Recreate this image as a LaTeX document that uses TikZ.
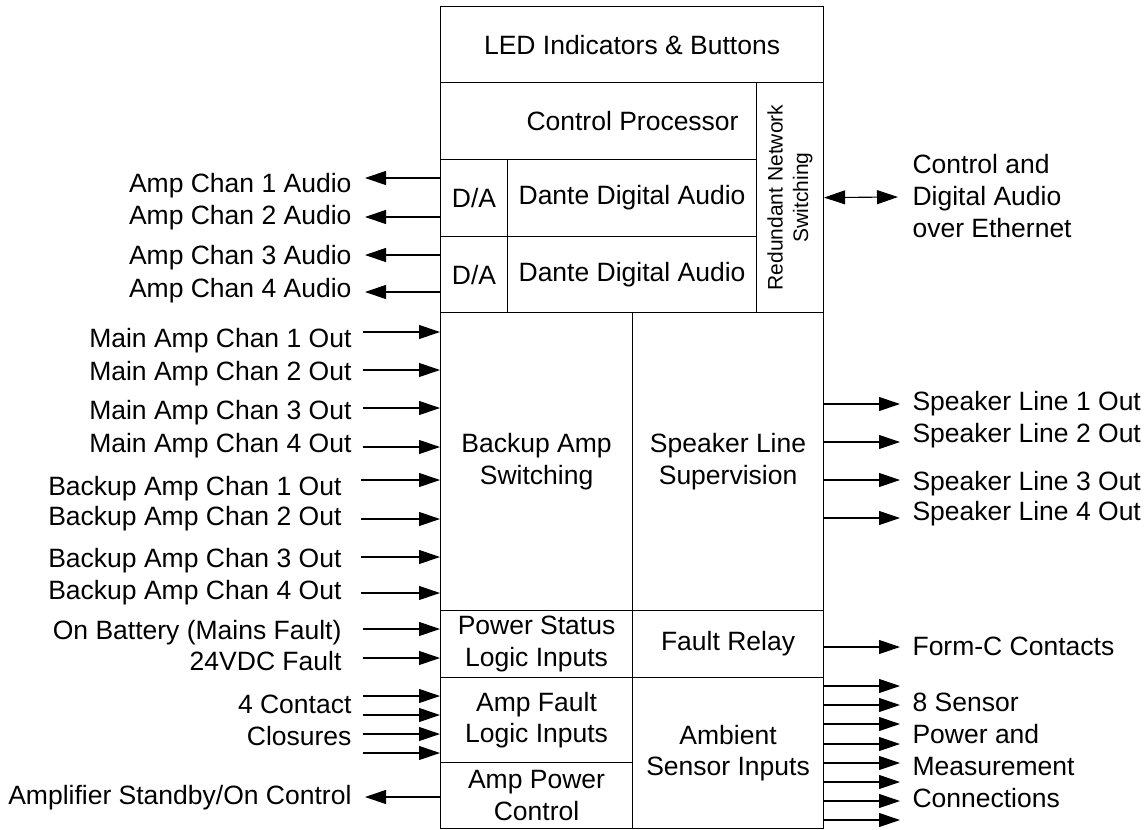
\documentclass[tikz,border=0pt]{standalone}
\usepackage{fontspec}
\setmainfont{Liberation Sans}
\usetikzlibrary{arrows.meta, positioning}

\begin{document}
\begin{tikzpicture}[x=1pt, y=-1pt, line width=1.1pt,
    font=\fontsize{26.5}{31.8}\selectfont,
    blk/.style={draw, inner sep=0pt, anchor=north west, align=center},
    lbl/.style={inner sep=0pt, anchor=base east, align=right},
    rlbl/.style={inner sep=0pt, anchor=base west, align=left},
    arr/.style={-{Triangle[length=21pt, width=14pt]}}]
    \useasboundingbox (0,0) rectangle (1146,830);
    % unit blocks
    \node[blk, minimum width=383pt, minimum height=76pt] (led) at (440,6) {LED Indicators \& Buttons};
    \node[blk, minimum width=316pt, minimum height=77pt, label={[xshift=34pt]center:Control Processor}] (cpu) at (440,82) {};
    \node[blk, minimum width=67pt, minimum height=230pt,
      label={[rotate=90, align=center, font=\fontsize{21}{25.5}\selectfont]center:Redundant Network\\Switching}] (rns) at (756,82) {};
    \node[blk, minimum width=67pt, minimum height=77pt] (da1) at (440,159) {D/A};
    \node[blk, minimum width=249pt, minimum height=77pt] (dante1) at (507,159) {Dante Digital Audio};
    \node[blk, minimum width=67pt, minimum height=76pt] (da2) at (440,236) {D/A};
    \node[blk, minimum width=249pt, minimum height=76pt] (dante2) at (507,236) {Dante Digital Audio};
    \node[blk, minimum width=192pt, minimum height=298pt] (bkp) at (440,312) {Backup Amp\\Switching};
    \node[blk, minimum width=191pt, minimum height=298pt] (spk) at (632,312) {Speaker Line\\Supervision};
    \node[blk, minimum width=192pt, minimum height=67pt] (pwr) at (440,610) {Power Status\\Logic Inputs};
    \node[blk, minimum width=191pt, minimum height=67pt] (flt) at (632,610) {Fault Relay};
    \node[blk, minimum width=192pt, minimum height=85pt] (afl) at (440,677) {Amp Fault\\Logic Inputs};
    \node[blk, minimum width=192pt, minimum height=66pt] (apc) at (440,762) {Amp Power\\Control};
    \node[blk, minimum width=191pt, minimum height=151pt] (amb) at (632,677) {Ambient\\Sensor Inputs};

    % analog audio out
    \coordinate (aud1) at (365,178); \coordinate (aud2) at (365,217);
    \coordinate (aud3) at (365,255); \coordinate (aud4) at (365,292);
    \draw[arr] (aud1 -| da1.west) -- (aud1); \draw[arr] (aud2 -| da1.west) -- (aud2);
    \draw[arr] (aud3 -| da2.west) -- (aud3); \draw[arr] (aud4 -| da2.west) -- (aud4);
    \node[lbl] (laud1) at (352,192) {Amp Chan 1 Audio};
    \node[lbl] (laud2) at (352,224) {Amp Chan 2 Audio};
    \node[lbl] (laud3) at (352,264) {Amp Chan 3 Audio};
    \node[lbl] (laud4) at (352,297) {Amp Chan 4 Audio};

    % amplifier outputs in
    \coordinate (main1) at (363,332); \coordinate (main2) at (363,370);
    \coordinate (main3) at (363,408); \coordinate (main4) at (363,447);
    \coordinate (bak1) at (361,480); \coordinate (bak2) at (361,519);
    \coordinate (bak3) at (361,557); \coordinate (bak4) at (361,593);
    \draw[arr] (main1) -- (main1 -| bkp.west); \draw[arr] (main2) -- (main2 -| bkp.west);
    \draw[arr] (main3) -- (main3 -| bkp.west); \draw[arr] (main4) -- (main4 -| bkp.west);
    \draw[arr] (bak1) -- (bak1 -| bkp.west); \draw[arr] (bak2) -- (bak2 -| bkp.west);
    \draw[arr] (bak3) -- (bak3 -| bkp.west); \draw[arr] (bak4) -- (bak4 -| bkp.west);
    \node[lbl] (lmain1) at (352,347) {Main Amp Chan 1 Out};
    \node[lbl] (lmain2) at (352,380) {Main Amp Chan 2 Out};
    \node[lbl] (lmain3) at (352,419) {Main Amp Chan 3 Out};
    \node[lbl] (lmain4) at (352,452) {Main Amp Chan 4 Out};
    \node[lbl] (lbak1) at (342,495) {Backup Amp Chan 1 Out};
    \node[lbl] (lbak2) at (342,525) {Backup Amp Chan 2 Out};
    \node[lbl] (lbak3) at (342,567) {Backup Amp Chan 3 Out};
    \node[lbl] (lbak4) at (342,599) {Backup Amp Chan 4 Out};

    % power status, contacts, standby
    \coordinate (bat) at (363,629); \coordinate (vdc) at (363,658);
    \draw[arr] (bat) -- (bat -| pwr.west); \draw[arr] (vdc) -- (vdc -| pwr.west);
    \node[lbl] (lbat) at (342,639) {On Battery (Mains Fault)};
    \node[lbl] (lvdc) at (342,670) {24VDC Fault};
    \coordinate (cc1) at (363,696); \coordinate (cc2) at (363,715);
    \coordinate (cc3) at (363,734); \coordinate (cc4) at (363,753);
    \draw[arr] (cc1) -- (cc1 -| afl.west); \draw[arr] (cc2) -- (cc2 -| afl.west);
    \draw[arr] (cc3) -- (cc3 -| afl.west); \draw[arr] (cc4) -- (cc4 -| afl.west);
    \node[lbl] (lcc) at (352,745) {4 Contact\\Closures};
    \coordinate (stby) at (365,797);
    \draw[arr] (stby -| apc.west) -- (stby);
    \node[lbl] (lstby) at (352,804) {Amplifier Standby/On Control};

    % right side
    \coordinate (eth) at (898,197);
    \draw[{Triangle[length=21pt, width=14pt]}-{Triangle[length=21pt, width=14pt]}] (rns.east) -- (eth);
    \node[rlbl] (leth) at (912,237) {Control and\\Digital Audio\\over Ethernet};
    \coordinate (spk1) at (900,404); \coordinate (spk2) at (900,442);
    \coordinate (spk3) at (900,480); \coordinate (spk4) at (900,518);
    \draw[arr] (spk1 -| spk.east) -- (spk1); \draw[arr] (spk2 -| spk.east) -- (spk2);
    \draw[arr] (spk3 -| spk.east) -- (spk3); \draw[arr] (spk4 -| spk.east) -- (spk4);
    \node[rlbl] (lspk1) at (912,410) {Speaker Line 1 Out};
    \node[rlbl] (lspk2) at (912,442) {Speaker Line 2 Out};
    \node[rlbl] (lspk3) at (912,490) {Speaker Line 3 Out};
    \node[rlbl] (lspk4) at (912,520) {Speaker Line 4 Out};
    \coordinate (formc) at (900,647);
    \draw[arr] (formc -| flt.east) -- (formc);
    \node[rlbl] (lformc) at (912,655) {Form-C Contacts};
    \coordinate (sns1) at (900,686); \coordinate (sns2) at (900,705);
    \coordinate (sns3) at (900,724); \coordinate (sns4) at (900,744);
    \coordinate (sns5) at (900,763); \coordinate (sns6) at (900,782);
    \coordinate (sns7) at (900,801); \coordinate (sns8) at (900,820);
    \draw[arr] (sns1 -| amb.east) -- (sns1); \draw[arr] (sns2 -| amb.east) -- (sns2);
    \draw[arr] (sns3 -| amb.east) -- (sns3); \draw[arr] (sns4 -| amb.east) -- (sns4);
    \draw[arr] (sns5 -| amb.east) -- (sns5); \draw[arr] (sns6 -| amb.east) -- (sns6);
    \draw[arr] (sns7 -| amb.east) -- (sns7); \draw[arr] (sns8 -| amb.east) -- (sns8);
    \node[rlbl] (lsns) at (912,807) {8 Sensor\\Power and\\Measurement\\Connections};
  \end{tikzpicture}
\end{document}
